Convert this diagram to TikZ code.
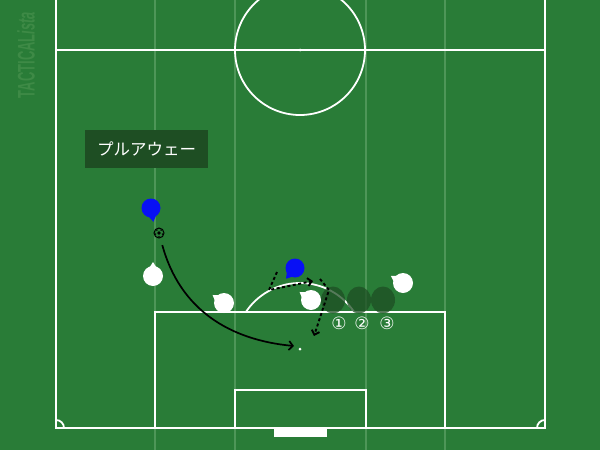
\documentclass[tikz,border=0pt]{standalone}
\usepackage{fontspec}
\usepackage{xcolor}
\usepackage{tikz}
\usetikzlibrary{calc,arrows.meta,shapes.geometric}
\newfontfamily\jpfont{Noto Sans CJK JP}
\newfontfamily\symfont{DejaVu Sans}
\newfontfamily\markfont{Liberation Sans}
\definecolor{pitchgreen}{RGB}{41,124,55}
\definecolor{lanegreen}{RGB}{78,150,88}
\definecolor{markgreen}{RGB}{62,138,70}
\definecolor{tagbox}{RGB}{30,78,35}
\definecolor{ghostgreen}{RGB}{30,78,36}
\definecolor{teamblue}{RGB}{8,16,245}

\tikzset{
  pline/.style={white, line width=1.8pt},
  lane/.style={lanegreen, line width=1.2pt},
  wplayer/.style={circle, fill=white, minimum size=20pt, inner sep=0pt},
  bplayer/.style={circle, fill=teamblue, minimum size=19pt, inner sep=0pt},
  ghost/.style={ellipse, fill=ghostgreen, fill opacity=0.75, minimum width=24pt, minimum height=27pt, inner sep=0pt},
  ballnode/.style={circle, draw=black, line width=1pt, fill=pitchgreen, minimum size=10pt, inner sep=0pt},
  tag/.style={fill=tagbox, text=white, minimum width=123pt, minimum height=38pt, font=\jpfont\fontsize{16.5}{18}\selectfont},
  num/.style={text=white, font=\symfont\fontsize{17}{17}\selectfont, inner sep=0pt},
  run/.style={black, line width=1.9pt, dash pattern=on 3pt off 2.5pt, -{Straight Barb[length=4pt,width=8pt]}},
  pass/.style={black, line width=1.7pt, -{Straight Barb[length=4pt,width=9pt]}}
}
% body orientation marker
\newcommand\facing[3]{\fill[#3] ($(#1)+(#2:14)$) -- ($(#1)+(#2+24:9)$) -- ($(#1)+(#2-24:9)$) -- cycle;}

\begin{document}
\begin{tikzpicture}[x=1pt,y=-1pt]
\useasboundingbox (0,0) rectangle (600,450);
\fill[pitchgreen] (0,0) rectangle (600,450);

\begin{scope}
\clip (0,0) rectangle (600,450);
% Lanes
\foreach \x in {155,235,366,445}
  \draw[lane] (\x,0) -- (\x,450);

% Pitch lines
\draw[pline] (56,0) -- (56,428) -- (545,428) -- (545,0);
\draw[pline] (56,50) -- (545,50);
\draw[pline] (300,50) circle[radius=65];
\fill[white] (300,50) circle[radius=1.5];
\draw[pline] (155,428) -- (155,312) -- (445,312) -- (445,428);
\draw[pline] (235,428) -- (235,390) -- (366,390) -- (366,428);
\fill[white] (274,429) rectangle (327,437);
\fill[white] (300,349) circle[radius=1.5];
\end{scope}

% Arcs
\begin{scope}
\clip (0,0) rectangle (600,312);
\draw[pline] (300,348) circle[radius=65];
\end{scope}
\begin{scope}
\clip (56,50) rectangle (545,428);
\draw[pline] (56,428) circle[radius=8];
\draw[pline] (545,428) circle[radius=8];
\end{scope}

% Watermark
\node[rotate=90, text=markgreen, inner sep=0pt] (mark) at (26,55)
  {\markfont\bfseries\fontsize{24}{24}\selectfont\scalebox{0.54}[1]{TACTICAL\textit{ista}}};

% Title
\node[tag] (title) at (146.5,149) {プルアウェー};

% Ghost positions
\node[ghost] (g1) at (333,300) {};
\node[ghost] (g2) at (359,300) {};
\node[ghost] (g3) at (383,300) {};
\node[num] (n1) at (339,323) {①};
\node[num] (n2) at (362,323) {②};
\node[num] (n3) at (387,323) {③};

% Blue team
\node[bplayer] (b1) at (151,208) {};
\facing{b1}{80}{teamblue}
\node[bplayer] (b2) at (295,268) {};
\facing{b2}{130}{teamblue}

% White team
\node[wplayer] (w1) at (153,276) {};
\facing{w1}{270}{white}
\node[wplayer] (w2) at (224,303) {};
\facing{w2}{215}{white}
\node[wplayer] (w3) at (311,300) {};
\facing{w3}{215}{white}
\node[wplayer] (w4) at (403,283) {};
\facing{w4}{210}{white}

% Ball
\node[ballnode] (ball) at (159,233) {};
\fill[black] (ball) circle[radius=1.8];
\foreach \a in {90,162,234,306,18}
  \fill[black] ($(ball)+(\a:3.6)$) circle[radius=0.8];

% Cross into the box
\coordinate (passend) at (294,346);
\draw[pass, shorten <=7pt] (ball) .. controls (180,310) and (230,340) .. (passend);

% Runs
\coordinate (r1s) at (277,272);
\coordinate (r1m) at (269,290);
\coordinate (r1e) at (313,281);
\draw[run] (r1s) -- (r1m) -- (r1e);
\coordinate (r2s) at (320,279);
\coordinate (r2m) at (329,290);
\coordinate (r2e) at (314,336);
\draw[run] (r2s) -- (r2m) -- (r2e);
\end{tikzpicture}
\end{document}
